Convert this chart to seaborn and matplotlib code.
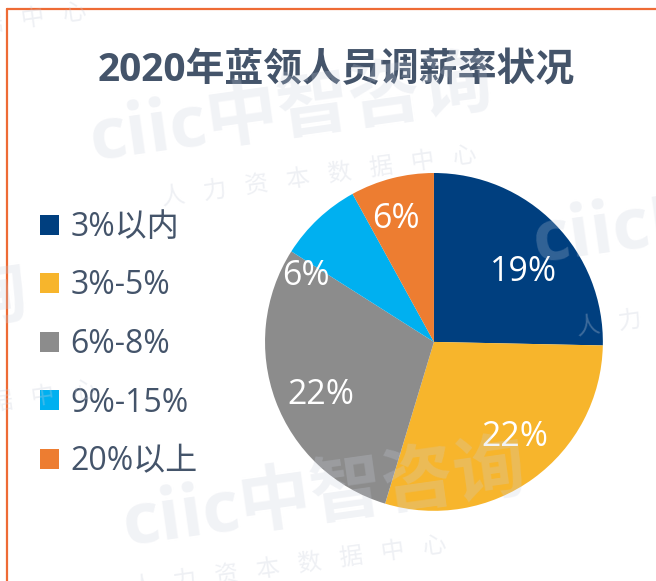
import numpy as np
import seaborn as sns
import matplotlib.pyplot as plt
from matplotlib.lines import Line2D

# Dữ liệu
categories = ['3%以内', '3%-5%', '6%-8%', '9%-15%', '20%以上']
values = [19, 22, 22, 6, 6]
colors = ['#003F7F', '#F7B52C', '#8C8C8C', '#00B0F0', '#ED7D31']

# vị trí nhãn (góc độ, bán kính tương đối) giống bản gốc
label_angle = [38, -49.5, 205, 152.7, 107.3]
label_radius = [0.67, 0.74, 0.74, 0.85, 0.76]

sns.set_theme(style="white")
plt.rcParams['font.family'] = ['Open Sans', 'Noto Sans CJK SC', 'DejaVu Sans']

text_color = '#44546A'

fig = plt.figure(figsize=(6.56, 5.81), dpi=100)
fig.patch.set_facecolor('white')

# Pie axes
ax = fig.add_axes([0.404, 0.1205, 0.515, 0.582])
wedges, texts = ax.pie(
    values,
    colors=colors,
    startangle=90,
    counterclock=False,
    radius=1,
    wedgeprops=dict(linewidth=0),
)
# nhãn là giá trị gốc (không chuẩn hoá)
for v, a, r in zip(values, label_angle, label_radius):
    ax.text(r * np.cos(np.radians(a)), r * np.sin(np.radians(a)), f'{v}%',
            ha='center', va='center', color='white', fontsize=24.5)
ax.set_xlim(-1, 1)
ax.set_ylim(-1, 1)

# Legend bên trái
fig.legend(wedges, categories, loc='center left', bbox_to_anchor=(0.061, 0.407),
           frameon=False, fontsize=23, handlelength=0.6, handleheight=0.6,
           handletextpad=0.35, labelspacing=0.8, borderpad=0, borderaxespad=0,
           labelcolor=text_color)

# Tiêu đề
fig.text(0.512, 0.878, '2020年蓝领人员调薪率状况', ha='center', va='center',
         fontsize=28, fontweight='bold', color=text_color)

# Watermark mờ
wm_kw = dict(color='#c9cfdc', alpha=0.25, fontweight='bold', ha='left', va='baseline',
             rotation=8, zorder=10)
sub_kw = dict(color='#c9cfdc', alpha=0.3, ha='left', va='baseline', rotation=8, zorder=10)
for (x, y) in [(85, 160), (118, 545), (528, 262), (-380, 370)]:
    fig.text(x / 656, 1 - y / 581, 'ciic中智咨询', fontsize=52, **wm_kw)
for (x, y) in [(-230, 62), (160, 205), (130, 595), (575, 335), (-220, 440)]:
    fig.text(x / 656, 1 - y / 581, '人   力   资   本   数   据   中   心', fontsize=17, **sub_kw)

# Viền cam (trên và trái)
fig.add_artist(Line2D([7 / 656, 1], [1 - 9 / 581, 1 - 9 / 581], transform=fig.transFigure,
                      color='#EE6B35', linewidth=1.6))
fig.add_artist(Line2D([7 / 656, 7 / 656], [0, 1 - 9 / 581], transform=fig.transFigure,
                      color='#EE6B35', linewidth=1.6))

fig.savefig('out.png', dpi=100)
